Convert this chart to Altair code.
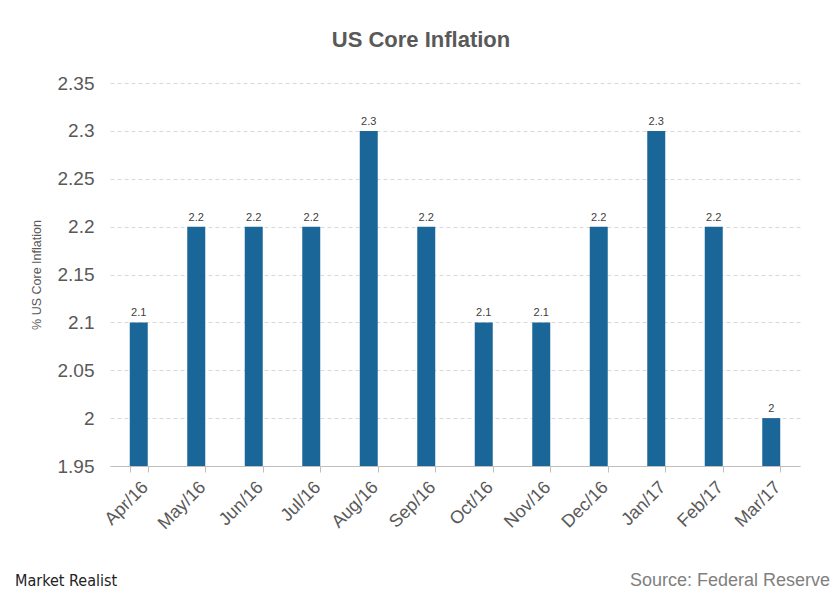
import altair as alt
import pandas as pd

months = ["Apr/16", "May/16", "Jun/16", "Jul/16", "Aug/16", "Sep/16",
          "Oct/16", "Nov/16", "Dec/16", "Jan/17", "Feb/17", "Mar/17"]
values = [2.1, 2.2, 2.2, 2.2, 2.3, 2.2, 2.1, 2.1, 2.2, 2.3, 2.2, 2.0]
y_ticks = [1.95, 2.0, 2.05, 2.1, 2.15, 2.2, 2.25, 2.3, 2.35]

df = pd.DataFrame({"month": months, "value": values})

FONT = "Liberation Sans"

x_enc = alt.X("month:N", sort=months, title=None,
              scale=alt.Scale(paddingInner=0.687, paddingOuter=0.3435),
              axis=alt.Axis(labelAngle=-45, labelFontSize=18, labelColor="#595959",
                            labelFont=FONT, labelPadding=6, domainColor="#bfbfbf",
                            tickColor="#bfbfbf", tickSize=6, tickBand="extent",
                            grid=False))
y_enc = alt.Y("value:Q", title="% US Core Inflation",
              scale=alt.Scale(domain=[1.95, 2.35], clamp=True, nice=False, zero=False),
              axis=alt.Axis(values=y_ticks, labelFontSize=19, labelColor="#595959",
                            labelFont=FONT, labelPadding=16, domain=False, ticks=False,
                            gridDash=[4, 3], gridColor="#d9d9d9",
                            titleFontSize=12.5, titleFont=FONT, titleColor="#595959",
                            titleFontWeight="normal", titlePadding=14,
                            labelExpr="datum.value"))

bars = alt.Chart(df).mark_bar(color="#1b6699", clip=True).encode(x=x_enc, y=y_enc)

labels = alt.Chart(df).mark_text(dy=-9, fontSize=11, color="#404040", font=FONT).encode(
    x=alt.X("month:N", sort=months), y="value:Q", text=alt.Text("value:Q"))

footer_left = alt.Chart(pd.DataFrame({"t": ["Market Realist"]})).mark_text(
    align="left", baseline="alphabetic", fontSize=16, font="DejaVu Sans Condensed",
    color="#222222").encode(x=alt.value(-95), y=alt.value(503), text="t:N")

footer_right = alt.Chart(pd.DataFrame({"t": ["Source: Federal Reserve"]})).mark_text(
    align="right", baseline="alphabetic", fontSize=18, font=FONT,
    color="#7f7f7f").encode(x=alt.value(720), y=alt.value(503), text="t:N")

chart = alt.layer(bars, labels, footer_left, footer_right).properties(
    width=690, height=383,
    title=alt.TitleParams("US Core Inflation", fontSize=22, font=FONT, fontWeight="bold",
                          color="#595959", anchor="middle", frame="group", dx=-34,
                          offset=22),
    autosize=alt.AutoSizeParams(type="none"),
    padding={"left": 102, "top": 75, "right": 32, "bottom": 125},
).configure_view(stroke=None)

chart.save("out.html", embed_options={"renderer": "svg", "actions": False})
